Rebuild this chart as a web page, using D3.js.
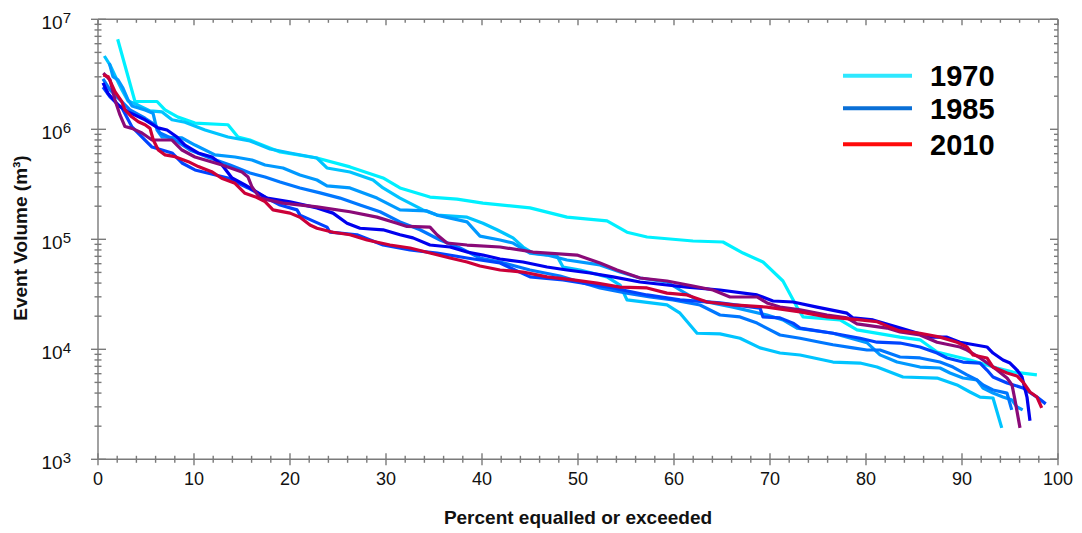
<!DOCTYPE html>
<html><head><meta charset="utf-8">
<script src="https://cdn.jsdelivr.net/npm/d3@7"></script>
<style>
body{margin:0;background:#fff}
svg{display:block}
text{font-family:"Liberation Sans",Arial,sans-serif}
</style>
</head><body>
<svg id="chart" width="1082" height="533"></svg>
<script>
// ---- data (percent equalled or exceeded, event volume m3) ----
const xTickValues = [0,10,20,30,40,50,60,70,80,90,100];
const yTickExponents = [3,4,5,6,7];
const legendLabels = ["1970","1985","2010"];
const legendColors = ["#2ee8ff","#0a6fd6","#ff0a0a"];
const seriesColors = ["#00f0ff","#00c4ff","#0099ff","#0077ff","#0044ff","#0000ee","#8a0a78","#cc0038"];

const seriesA = [[2.05,6.58e6],[3.85,1.79e6],[6.15,1.79e6],[6.98,1.50e6],[8.33,1.29e6],[10.1,1.14e6],[13.54,1.10e6],[14.58,8.5e5],[15.83,7.99e5],[18.96,6.22e5],[22.8,5.48e5],[26.25,4.55e5],[29.69,3.61e5],[31.46,2.93e5],[34.58,2.42e5],[37.4,2.32e5],[40.1,2.13e5],[45.0,1.93e5],[48.85,1.59e5],[53.02,1.47e5],[55.1,1.16e5],[57.19,1.05e5],[61.98,9.65e4],[65.1,9.45e4],[67.19,7.5e4],[69.27,6.22e4],[71.35,4.18e4],[72.81,2.42e4],[73.44,1.97e4],[77.29,1.85e4],[79.06,1.50e4],[83.54,1.29e4],[85.63,1.22e4],[87.4,9.45e3],[90.83,7.99e3],[93.65,6.76e3],[95.31,6.22e3],[97.8,5.85e3]];
const seriesB = [[0.66,4.64e6],[1.25,3.84e6],[1.88,2.93e6],[2.5,2.28e6],[3.13,1.81e6],[4.17,1.66e6],[5.42,1.47e6],[6.67,1.44e6],[7.71,1.22e6],[9.06,1.16e6],[11.15,9.85e5],[13.54,8.51e5],[15.83,7.83e5],[17.92,6.62e5],[20.0,6.09e5],[22.8,5.48e5],[23.85,4.45e5],[26.25,4.09e5],[28.65,3.46e5],[29.69,2.93e5],[31.46,2.37e5],[33.85,1.85e5],[35.31,1.66e5],[38.44,1.59e5],[40.1,1.40e5],[41.56,1.22e5],[43.23,1.03e5],[44.27,8.51e4],[45.31,7.5e4],[47.81,7.05e4],[48.44,5.6e4],[50.21,5.26e4],[53.02,4.55e4],[54.38,3.84e4],[55.1,2.81e4],[59.27,2.53e4],[60.63,2.13e4],[62.4,1.40e4],[64.79,1.38e4],[66.88,1.26e4],[68.96,1.03e4],[71.04,9.25e3],[73.13,8.87e3],[76.56,7.66e3],[79.38,7.5e3],[81.15,6.9e3],[83.85,5.6e3],[87.4,5.48e3],[89.48,4.74e3],[90.83,4.09e3],[91.88,3.68e3],[93.23,3.61e3],[94.14,1.93e3]];
const seriesC = [[1.18,4.0e6],[1.56,3.01e6],[2.08,2.81e6],[2.6,2.37e6],[3.13,1.85e6],[3.54,1.63e6],[4.9,1.50e6],[5.73,1.40e6],[6.15,9.85e5],[6.67,8.51e5],[8.75,8.34e5],[10.1,7.19e5],[12.19,5.85e5],[14.27,5.6e5],[16.04,5.26e5],[17.4,4.74e5],[19.27,4.45e5],[21.04,3.84e5],[22.81,3.46e5],[23.85,3.06e5],[26.25,2.93e5],[29.06,2.37e5],[31.46,1.85e5],[34.27,1.81e5],[35.31,1.66e5],[38.44,1.44e5],[39.79,1.07e5],[41.88,9.85e4],[43.23,9.25e4],[45.0,7.5e4],[46.77,7.19e4],[48.85,6.48e4],[52.29,5.85e4],[54.38,5.04e4],[56.46,4.45e4],[59.27,4.09e4],[60.63,3.46e4],[62.4,2.81e4],[66.15,2.42e4],[69.69,2.05e4],[71.35,1.85e4],[72.81,1.56e4],[76.56,1.40e4],[80.1,1.15e4],[81.46,8.9e3],[83.23,7.66e3],[85.63,6.9e3],[87.71,6.76e3],[88.75,6.09e3],[90.1,5.48e3],[91.56,5.26e3],[92.19,4.45e3],[93.23,4.0e3],[94.27,3.68e3],[95.21,3.46e3],[95.73,2.99e3],[96.32,2.81e3]];
const seriesD = [[0.52,2.87e6],[1.25,2.28e6],[2.29,1.85e6],[3.33,1.50e6],[4.9,1.26e6],[5.94,1.10e6],[6.46,9.25e5],[8.02,7.99e5],[9.58,6.48e5],[11.67,5.48e5],[13.75,4.74e5],[15.83,4.0e5],[17.4,3.68e5],[18.96,3.32e5],[21.04,2.93e5],[23.13,2.64e5],[25.21,2.37e5],[27.29,2.05e5],[29.38,1.78e5],[31.46,1.44e5],[33.54,1.22e5],[35.63,9.85e4],[37.71,8.34e4],[39.79,6.76e4],[41.88,6.22e4],[45.0,5.26e4],[48.13,4.64e4],[52.29,3.61e4],[55.1,3.24e4],[57.5,2.99e4],[59.9,2.81e4],[62.71,2.53e4],[64.79,2.05e4],[66.88,1.97e4],[68.65,1.73e4],[70.0,1.50e4],[71.04,1.35e4],[73.13,1.26e4],[75.21,1.16e4],[76.56,1.10e4],[78.65,1.03e4],[80.1,9.85e3],[81.46,9.85e3],[83.54,8.51e3],[85.63,8.34e3],[87.71,7.66e3],[89.06,6.9e3],[90.52,5.85e3],[91.56,5.26e3],[92.19,4.74e3],[93.23,4.27e3],[94.69,4.0e3],[95.18,2.81e3]];
const seriesE = [[0.52,2.42e6],[1.25,1.97e6],[2.5,1.56e6],[3.54,1.05e6],[4.9,7.99e5],[5.63,6.9e5],[7.71,6.09e5],[8.75,4.94e5],[10.1,4.27e5],[13.54,3.61e5],[15.63,2.93e5],[17.4,2.42e5],[18.96,2.05e5],[20.73,1.85e5],[21.04,1.66e5],[23.85,1.29e5],[24.17,1.16e5],[26.98,1.10e5],[29.69,8.87e4],[32.5,7.99e4],[35.31,7.5e4],[38.44,6.76e4],[41.88,6.09e4],[45.0,4.55e4],[48.44,4.27e4],[53.65,3.61e4],[57.19,3.12e4],[60.63,2.81e4],[64.79,2.64e4],[68.96,2.37e4],[69.27,1.97e4],[71.04,1.93e4],[72.4,1.73e4],[73.13,1.56e4],[76.56,1.40e4],[79.38,1.26e4],[81.15,1.16e4],[83.54,1.14e4],[85.63,1.05e4],[87.4,9.25e3],[88.44,8.34e3],[90.1,7.66e3],[91.88,7.5e3],[92.6,6.48e3],[93.23,5.6e3],[94.69,4.94e3],[96.35,4.45e3],[97.81,3.68e3],[98.72,3.19e3]];
const seriesF = [[0.52,2.64e6],[1.04,2.13e6],[2.08,1.66e6],[3.13,1.44e6],[4.9,1.22e6],[6.25,1.03e6],[7.19,9.85e5],[8.23,8.51e5],[9.06,7.19e5],[10.42,6.09e5],[11.88,5.6e5],[12.92,4.74e5],[13.96,3.61e5],[15.31,3.12e5],[17.6,2.37e5],[20.0,2.19e5],[22.81,1.93e5],[24.48,1.73e5],[25.94,1.40e5],[27.29,1.26e5],[29.69,1.22e5],[31.46,1.10e5],[32.81,1.03e5],[34.58,8.87e4],[36.67,8.51e4],[38.44,7.66e4],[40.1,7.19e4],[41.88,6.62e4],[44.27,6.22e4],[46.77,5.6e4],[48.85,5.26e4],[51.25,4.94e4],[53.65,4.55e4],[56.46,4.09e4],[59.27,3.84e4],[61.35,3.68e4],[64.79,3.46e4],[68.65,3.12e4],[70.31,2.75e4],[72.4,2.69e4],[74.9,2.42e4],[78.02,2.13e4],[78.65,1.93e4],[80.73,1.85e4],[83.23,1.59e4],[84.9,1.44e4],[86.67,1.29e4],[88.44,1.29e4],[89.79,1.16e4],[92.6,1.05e4],[93.23,9.25e3],[94.27,7.99e3],[95.0,7.5e3],[95.73,6.48e3],[96.25,5.6e3],[96.77,3.68e3],[97.08,2.24e3]];
const seriesG = [[0.55,3.24e6],[1.25,2.81e6],[1.77,1.85e6],[2.29,1.35e6],[2.81,1.06e6],[3.54,1.02e6],[4.58,9.25e5],[5.63,7.99e5],[7.71,7.99e5],[8.75,6.48e5],[10.1,5.6e5],[12.92,4.74e5],[15.0,4.09e5],[15.63,3.68e5],[16.04,2.99e5],[16.88,2.37e5],[19.27,2.13e5],[22.81,1.97e5],[26.25,1.78e5],[29.06,1.59e5],[31.15,1.40e5],[32.19,1.31e5],[34.58,1.29e5],[35.31,1.10e5],[36.35,9.25e4],[38.44,8.87e4],[41.88,8.51e4],[45.31,7.66e4],[49.9,7.19e4],[52.29,6.09e4],[54.06,5.26e4],[56.46,4.45e4],[59.27,4.18e4],[61.98,3.76e4],[64.06,3.46e4],[65.83,2.99e4],[68.65,2.99e4],[69.69,2.64e4],[71.04,2.42e4],[73.13,2.28e4],[75.94,2.05e4],[78.02,1.93e4],[79.06,1.70e4],[82.19,1.56e4],[83.54,1.44e4],[85.63,1.35e4],[87.4,1.16e4],[89.79,1.05e4],[90.52,9.85e3],[91.88,8.34e3],[92.92,7.19e3],[93.65,6.48e3],[94.69,5.48e3],[95.21,4.74e3],[95.52,3.46e3],[96.04,1.93e3]];
const seriesH = [[0.55,3.12e6],[1.07,3.0e6],[1.77,2.2e6],[2.47,1.79e6],[2.81,1.50e6],[3.51,1.30e6],[4.2,1.17e6],[4.9,1.10e6],[5.42,1.02e6],[5.76,7.99e5],[6.28,6.48e5],[6.98,5.85e5],[8.02,5.64e5],[9.41,5.08e5],[10.45,4.58e5],[11.84,4.12e5],[12.88,3.59e5],[14.27,3.23e5],[15.31,2.62e5],[16.35,2.44e5],[17.4,2.2e5],[18.23,1.85e5],[20.0,1.73e5],[21.04,1.59e5],[22.08,1.35e5],[22.81,1.26e5],[24.48,1.16e5],[26.25,1.10e5],[28.02,9.85e4],[30.42,8.87e4],[32.5,8.34e4],[34.58,7.5e4],[36.67,6.76e4],[38.44,6.22e4],[39.79,5.72e4],[41.88,5.26e4],[44.27,5.04e4],[46.77,4.55e4],[49.48,4.27e4],[51.98,4.0e4],[54.38,3.68e4],[57.19,3.61e4],[59.27,3.24e4],[61.35,3.12e4],[63.44,2.69e4],[66.15,2.53e4],[69.69,2.42e4],[73.13,2.19e4],[75.94,1.97e4],[79.38,1.85e4],[81.15,1.78e4],[82.5,1.59e4],[83.54,1.47e4],[85.63,1.40e4],[87.71,1.29e4],[89.48,1.16e4],[90.52,1.05e4],[91.15,8.87e3],[92.6,8.34e3],[93.23,6.9e3],[94.69,6.09e3],[95.73,5.72e3],[96.35,5.04e3],[97.08,4.09e3],[97.81,3.68e3],[98.3,2.93e3]];

const allSeries = [seriesA, seriesB, seriesC, seriesD, seriesE, seriesF, seriesG, seriesH];

// ---- layout ----
const svg = d3.select("#chart");
const L = 98, R = 1058, T = 19.3, B = 459.3;
const x = d3.scaleLinear().domain([0,100]).range([L,R]);
const y = d3.scaleLog().domain([1e3,1e7]).range([B,T]);
const axisColor = "#7a7a7a";

// data lines
const line = d3.line().x(d => x(d[0])).y(d => y(d[1]));
svg.append("g").selectAll("path").data(allSeries).join("path")
  .attr("d", line)
  .attr("fill","none")
  .attr("stroke",(d,i)=>seriesColors[i])
  .attr("stroke-width",3.2)
  .attr("stroke-linejoin","round");

// frame
const g = svg.append("g").attr("stroke",axisColor).attr("stroke-width",1.4);
g.append("line").attr("x1",L).attr("x2",L).attr("y1",T).attr("y2",B);
g.append("line").attr("x1",R).attr("x2",R).attr("y1",T).attr("y2",B);
g.append("line").attr("x1",L).attr("x2",R).attr("y1",T).attr("y2",T);
g.append("line").attr("x1",L).attr("x2",R).attr("y1",B).attr("y2",B);

// x ticks
const xMinor = d3.range(0,101,2);
xMinor.forEach(v => {
  const major = v % 10 === 0;
  const s = major ? 6 : 3.5;
  g.append("line").attr("x1",x(v)).attr("x2",x(v)).attr("y1",B-s).attr("y2",B+s);
  g.append("line").attr("x1",x(v)).attr("x2",x(v)).attr("y1",T).attr("y2",T+s);
});
// y ticks
const yMinor = [];
[3,4,5,6].forEach(e => { for (let m=2;m<=9;m++) yMinor.push(m*Math.pow(10,e)); });
yMinor.forEach(v => {
  g.append("line").attr("x1",L-3.5).attr("x2",L+3.5).attr("y1",y(v)).attr("y2",y(v));
  g.append("line").attr("x1",R-4).attr("x2",R).attr("y1",y(v)).attr("y2",y(v));
});
yTickExponents.forEach(e => {
  const v = Math.pow(10,e);
  g.append("line").attr("x1",L-7).attr("x2",L+8).attr("y1",y(v)).attr("y2",y(v));
  g.append("line").attr("x1",R-8).attr("x2",R).attr("y1",y(v)).attr("y2",y(v));
});

// x labels
svg.append("g").selectAll("text").data(xTickValues).join("text")
  .attr("x", d => x(d)).attr("y", B+26)
  .attr("text-anchor","middle").attr("font-size",18).attr("fill","#111")
  .text(d => d);

// y labels
const yl = svg.append("g").selectAll("text").data(yTickExponents).join("text")
  .attr("x", 71).attr("y", d => y(Math.pow(10,d)) + 10)
  .attr("text-anchor","end").attr("font-size",19).attr("fill","#111");
yl.append("tspan").text("10");
yl.append("tspan").attr("dy",-6).attr("font-size",15).text(d => d);

// axis titles
svg.append("text").attr("x",(L+R)/2).attr("y",524)
  .attr("text-anchor","middle").attr("font-size",19).attr("font-weight","bold").attr("fill","#111")
  .text("Percent equalled or exceeded");
svg.append("text").attr("transform","translate(27,238) rotate(-90)")
  .attr("text-anchor","middle").attr("font-size",19).attr("font-weight","bold").attr("fill","#111")
  .text("Event Volume (m³)");

// legend
const lg = svg.append("g");
const legendY = [75.7,108.3,144.3];
legendLabels.forEach((lab,i) => {
  lg.append("line").attr("x1",843).attr("x2",912).attr("y1",legendY[i]).attr("y2",legendY[i])
    .attr("stroke",legendColors[i]).attr("stroke-width",4);
  lg.append("text").attr("x",930).attr("y",legendY[i]+10.5)
    .attr("font-size",29).attr("font-weight","bold").attr("fill","#000").text(lab);
});
</script>
</body></html>
